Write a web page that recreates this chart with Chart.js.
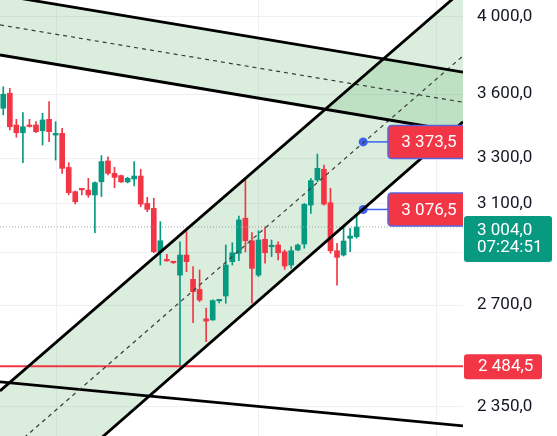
<!DOCTYPE html>
<html><head><meta charset="utf-8">
<script src="https://cdn.jsdelivr.net/npm/chart.js@4/dist/chart.umd.min.js"></script>
<style>html,body{margin:0;padding:0;background:#fff;overflow:hidden}#wrap{width:557px;height:436px;position:relative}</style>
</head><body><div id="wrap"><canvas id="c"></canvas></div>
<script>
// ---- data (daily candles, index = bar number) ----
const barIdx = [0,1,2,3,4,5,6,7,8,9,10,11,12,13,14,15,16,17,18,19,20,21,22,23,24,25,26,27,28,29,30,31,32,33,34,35,36,37,38,39,40,41,42,43,44,45,46,47,48,49,50,51,52,53,54,55];
const opens  = [3640,3532,3605,3452,3416,3452,3452,3425,3479,3405,3413,3258,3152,3162,3159,3138,3195,3287,3232,3222,3194,3207,3220,3102,3081,2904,2870,2862,2813,2891,2797,2759,2650,2646,2716,2734,2865,2898,3040,2948,2813,2954,2924,2931,2904,2852,2911,2935,3095,3203,3250,3105,2908,2891,2958,2964];
const highs  = [3721,3637,3629,3479,3511,3479,3468,3508,3564,3468,3437,3279,3155,3166,3210,3195,3311,3306,3259,3224,3215,3284,3250,3128,3124,3026,2894,2863,2944,2985,2846,2833,2689,2720,2719,2931,2940,3049,3210,2981,2989,3005,2951,2944,2911,2924,2935,3102,3210,3318,3269,3167,2938,3003,2998,3053];
const lows   = [3540,3500,3429,3395,3279,3442,3416,3359,3374,3291,3232,3138,3099,3138,3128,2981,3131,3225,3169,3192,3190,3177,3088,3067,2900,2852,2867,2858,2484.5,2826,2636,2713,2569,2645,2708,2707,2852,2869,2904,2707,2807,2859,2885,2872,2835,2839,2908,2918,3060,3195,3095,2898,2775,2887,2904,2958];
const closes = [3560,3600,3444,3416,3444,3445,3421,3476,3421,3413,3254,3148,3109,3160,3138,3191,3284,3232,3214,3194,3210,3220,3099,3077,2904,2948,2868,2861,2891,2865,2750,2719,2642,2717,2718,2852,2900,3033,2948,2839,2951,2900,2926,2900,2848,2908,2931,3098,3200,3254,3099,2908,2882,2947,2967,3004];

// y axis tick values / labels (log scale)
const yTickValues = [4000,3600,3300,3100,2900,2700,2350];
const yTickLabels = ['4 000,0','3 600,0','3 300,0','3 100,0','','2 700,0','2 350,0'];
const yRange = [2258.8, 4093.8];
const xRange = [0.5, 71.25];
const xGridIdx = [9.2, 40, 67.2];

// drawn trend lines: prices at the left and right edge bars
const lineX      = [0.5, 71.25];
const descUpper  = [4122, 3710];
const descLower  = [3798, 3418];
const descMid    = [3957, 3561];
const ascUpper   = [2402, 4150];
const ascLower   = [1996.5, 3467];
const ascMid     = [2190, 3793];
const supportLow = [2432, 2290];

// price labels
const levelPrice = 2484.5;
const lastPrice  = 3004.0;
const countdown  = '07:24:51';
const anchorIdx  = 56;
const channelMidPrice = 3373.5;
const channelLowPrice = 3076.5;

// ---- helpers ----
const GREEN = '#089981', RED = '#F23645';
function fmt(v){const s=v.toFixed(1).split('.');return s[0].replace(/\B(?=(\d{3})+(?!\d))/g,' ')+','+s[1];}
function seg(vals){return [{x:lineX[0],y:vals[0]},{x:lineX[1],y:vals[1]}];}
function flat(v){return [{x:lineX[0],y:v},{x:lineX[1],y:v}];}
function rr(ctx,x,y,w,h,r){ctx.beginPath();ctx.moveTo(x+r,y);ctx.lineTo(x+w-r,y);ctx.quadraticCurveTo(x+w,y,x+w,y+r);ctx.lineTo(x+w,y+h-r);ctx.quadraticCurveTo(x+w,y+h,x+w-r,y+h);ctx.lineTo(x+r,y+h);ctx.quadraticCurveTo(x,y+h,x,y+h-r);ctx.lineTo(x,y+r);ctx.quadraticCurveTo(x,y,x+r,y);ctx.closePath();}

const candleColors = barIdx.map((k,i)=> closes[i] >= opens[i] ? GREEN : RED);
const FILL = 'rgba(56,160,70,0.18)';
const lineBase = {type:'line', pointRadius:0, borderColor:'#000', borderWidth:2.8, clip:0, fill:false, tension:0};

const datasets = [
  {...lineBase, data:seg(descUpper), fill:'+1', backgroundColor:FILL},
  {...lineBase, data:seg(descLower)},
  {...lineBase, data:seg(ascUpper), fill:'+1', backgroundColor:FILL},
  {...lineBase, data:seg(ascLower)},
  {...lineBase, data:seg(descMid), borderColor:'#3a3a3a', borderWidth:1.2, borderDash:[4,4]},
  {...lineBase, data:seg(ascMid), borderColor:'#3a3a3a', borderWidth:1.2, borderDash:[4,4]},
  {...lineBase, data:seg(supportLow)},
  {...lineBase, data:flat(levelPrice), borderColor:RED, borderWidth:2},
  {...lineBase, data:flat(lastPrice), borderColor:'#8fa3a0', borderWidth:1, borderDash:[1,2]},
  {...lineBase, data:[{x:anchorIdx,y:channelMidPrice},{x:anchorIdx+4,y:channelMidPrice}], borderColor:'#3b63f0', borderWidth:1.5, pointRadius:[4.5,0], pointBackgroundColor:'#3b63f0', pointBorderWidth:0},
  {...lineBase, data:[{x:anchorIdx,y:channelLowPrice},{x:anchorIdx+4,y:channelLowPrice}], borderColor:'#3b63f0', borderWidth:1.5, pointRadius:[4.5,0], pointBackgroundColor:'#3b63f0', pointBorderWidth:0},
  {type:'bar', data:barIdx.map((k,i)=>({x:k,y:[lows[i],highs[i]]})), backgroundColor:candleColors, barThickness:1, grouped:false, borderWidth:0, borderSkipped:false},
  {type:'bar', data:barIdx.map((k,i)=>({x:k,y:[opens[i],closes[i]]})), backgroundColor:candleColors, barThickness:5, grouped:false, borderWidth:0, borderSkipped:false, minBarLength:1.5}
];

const labelPlugin = {
  id:'priceLabels',
  afterDraw(chart){
    const ctx=chart.ctx, ys=chart.scales.y, a=chart.chartArea;
    ctx.save();
    ctx.font='17px Roboto';
    ctx.textBaseline='middle';
    ctx.save();
    ctx.beginPath(); ctx.rect(a.left,a.top,a.right-a.left,a.bottom-a.top); ctx.clip();
    [channelMidPrice, channelLowPrice].forEach(v=>{
      const py=ys.getPixelForValue(v);
      const x0=a.right-75, w=82, h=33;
      rr(ctx,x0,py-h/2,w,h,4);
      ctx.fillStyle=RED; ctx.fill();
      ctx.lineWidth=1.5; ctx.strokeStyle='#5b63d8'; ctx.stroke();
      ctx.fillStyle='#fff'; ctx.textAlign='center';
      ctx.fillText(fmt(v), x0+41, py+1);
    });
    ctx.restore();
    let py=ys.getPixelForValue(lastPrice);
    rr(ctx,a.right+1,py-11,88,46,3);
    ctx.fillStyle=GREEN; ctx.fill();
    ctx.fillStyle='#fff'; ctx.textAlign='left';
    ctx.fillText(fmt(lastPrice), a.right+14, py+4);
    ctx.fillText(countdown, a.right+14, py+21);
    py=ys.getPixelForValue(levelPrice);
    rr(ctx,a.right+1,py-12,78,25,3);
    ctx.fillStyle=RED; ctx.fill();
    ctx.fillStyle='#fff';
    ctx.fillText(fmt(levelPrice), a.right+15, py+1);
    ctx.restore();
  }
};

Chart.defaults.font.family='Roboto';
new Chart(document.getElementById('c'),{
  type:'bar',
  data:{datasets},
  options:{
    responsive:true, maintainAspectRatio:false, animation:false, events:[],
    devicePixelRatio:1,
    layout:{padding:0, autoPadding:false},
    plugins:{legend:{display:false}, tooltip:{enabled:false}, filler:{drawTime:'beforeDatasetsDraw'}},
    scales:{
      x:{type:'linear', min:xRange[0], max:xRange[1], offset:false,
         grid:{color:'#eef0f4', offset:false, drawTicks:false}, border:{display:false},
         ticks:{display:false},
         afterBuildTicks(s){s.ticks=xGridIdx.map(v=>({value:v}));},
         afterFit(s){s.height=0; s.paddingLeft=0; s.paddingRight=0;}},
      y:{type:'logarithmic', position:'right', min:yRange[0], max:yRange[1],
         grid:{color:'#eef0f4', drawTicks:false}, border:{display:false},
         ticks:{autoSkip:false, padding:14, color:'#131722', font:{size:17, family:'Roboto'},
                callback:(v)=>{const i=yTickValues.indexOf(v);return i>=0?yTickLabels[i]:'';}},
         afterBuildTicks(s){s.ticks=yTickValues.map(v=>({value:v}));},
         afterFit(s){s.width=94; s.paddingTop=0; s.paddingBottom=0;}}
    }
  },
  plugins:[labelPlugin]
});
</script></body></html>
